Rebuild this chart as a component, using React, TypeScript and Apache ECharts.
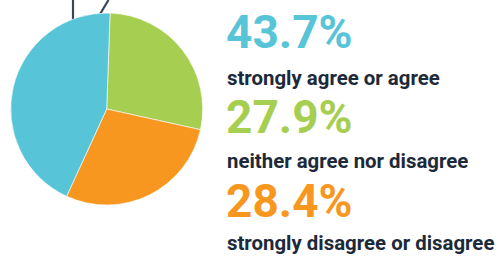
import React, { useEffect, useRef } from "react";
import * as echarts from "echarts";

const categories = ["neither agree nor disagree", "strongly disagree or disagree", "strongly agree or agree"];
const values = [27.9, 28.4, 43.7];
const colors = ["#a6ce50", "#f7971f", "#57c5d7"];
// order of the text block on the right (indices into the arrays above)
const textOrder = [2, 0, 1];

export default function App() {
  const ref = useRef<HTMLDivElement>(null);
  useEffect(() => {
    document.body.style.margin = "0";
    const chart = echarts.init(ref.current!, null, { renderer: "svg" });
    const bigY = [32.3, 117.3, 201.3];
    const smallY = [77.5, 160.5, 242.5];
    const texts: any[] = [];
    textOrder.forEach((idx, i) => {
      texts.push({
        type: "text",
        x: 226,
        y: bigY[i],
        style: {
          text: values[idx].toFixed(1) + "%",
          fill: colors[idx],
          font: "bold 46px Roboto",
          textVerticalAlign: "middle",
        },
      });
      texts.push({
        type: "text",
        x: 227,
        y: smallY[i],
        style: {
          text: categories[idx],
          fill: "#1c2a3a",
          font: "bold 20.4px Roboto",
          textVerticalAlign: "middle",
        },
      });
    });
    chart.setOption({
      animation: false,
      series: [
        {
          type: "pie",
          center: [106.7, 109],
          radius: 96,
          startAngle: 88,
          clockwise: true,
          label: { show: false },
          labelLine: { show: false },
          silent: true,
          itemStyle: { borderColor: "#ffffff", borderWidth: 0.6 },
          data: values.map((v, i) => ({ value: v, name: categories[i], itemStyle: { color: colors[i] } })),
        },
      ],
      graphic: [
        {
          type: "line",
          z: -1,
          shape: { x1: 73, y1: 0, x2: 73, y2: 20 },
          style: { stroke: "#3b4656", lineWidth: 2.2 },
        },
        {
          type: "line",
          z: -1,
          shape: { x1: 108.5, y1: 0, x2: 99.5, y2: 15 },
          style: { stroke: "#3b4656", lineWidth: 2.2 },
        },
        ...texts,
      ],
    });
    return () => chart.dispose();
  }, []);
  return <div ref={ref} style={{ width: 498, height: 258 }} />;
}
